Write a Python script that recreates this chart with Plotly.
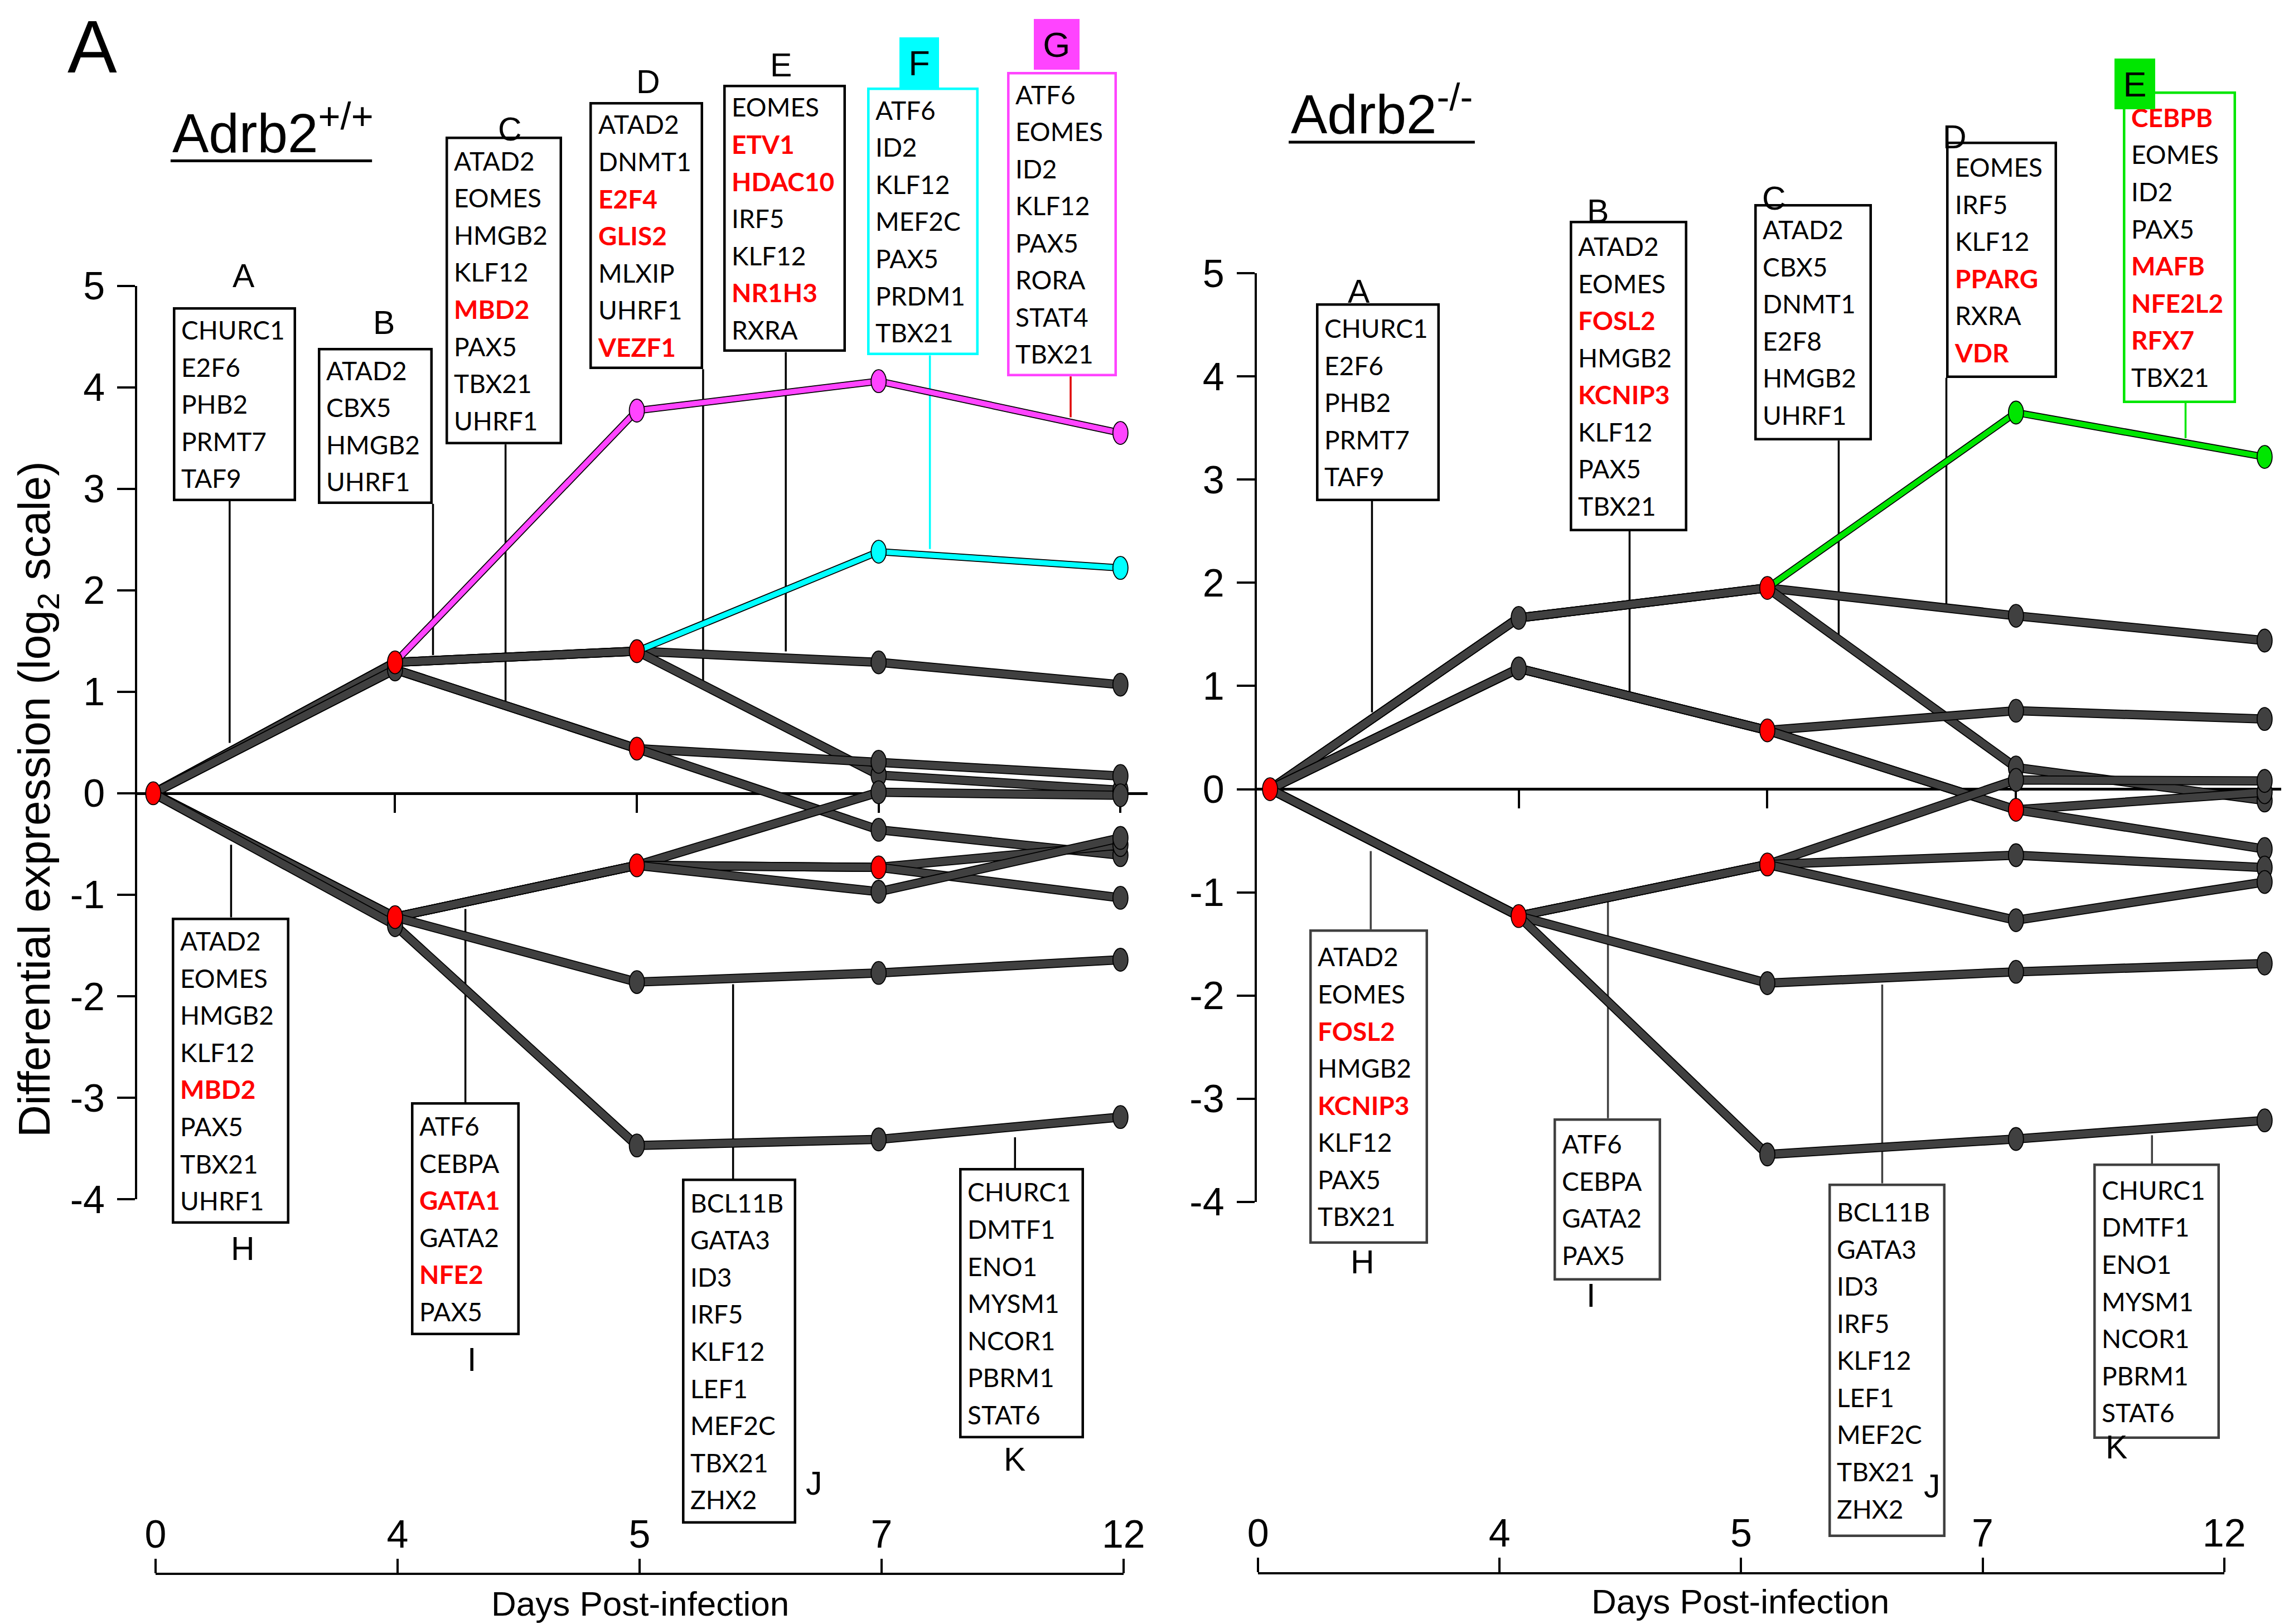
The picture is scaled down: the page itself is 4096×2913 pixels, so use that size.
import plotly.graph_objects as go

W, H = 4096, 2913
RW, RH = 1568.0, 1115.0          # reference preview size used for layout measurements
S = W / RW                       # reference px -> output px


def fx(v):
    return v / RW


def fy(v):
    return 1 - v / RH


ARIAL = 'Liberation Sans, Arial, sans-serif'
BOXF = 'Lato, Calibri, sans-serif'
GRAY = '#404040'
RED = '#FF0000'
MAGENTA = '#FF44FF'
CYAN = '#00FFFF'
GREEN = '#00E600'

# ---------------------------------------------------------------- data
days = ['0', '4', '5', '7', '12']
t = [0, 1, 2, 3, 4]
ytick_vals = [-4, -3, -2, -1, 0, 1, 2, 3, 4, 5]
ytick_text = ['-4', '-3', '-2', '-1', '0', '1', '2', '3', '4', '5']

# Adrb2+/+ trajectories (log2 differential expression at days 0, 4, 5, 7, 12)
wt_paths = [
    [0, 1.29, 3.77, 4.06, 3.55],     # G
    [0, 1.29, 1.40, 2.38, 2.22],     # F
    [0, 1.29, 1.40, 1.29, 1.07],
    [0, 1.29, 1.40, 0.18, 0.03],
    [0, 1.22, 0.44, 0.31, 0.17],
    [0, 1.22, 0.44, -0.36, -0.61],
    [0, -1.22, -0.71, 0.01, -0.02],
    [0, -1.22, -0.71, -0.73, -0.51],
    [0, -1.22, -0.71, -0.73, -1.03],
    [0, -1.22, -0.71, -0.97, -0.44],
    [0, -1.22, -1.86, -1.77, -1.64],
    [0, -1.30, -3.47, -3.41, -3.19],
]
wt_highlight = {0: (1, MAGENTA), 1: (2, CYAN)}

# Adrb2-/- trajectories
ko_paths = [
    [0, 1.66, 1.95, 3.65, 3.22],     # E
    [0, 1.66, 1.95, 1.68, 1.44],
    [0, 1.66, 1.95, 0.21, -0.11],
    [0, 1.17, 0.57, 0.76, 0.68],
    [0, 1.17, 0.57, -0.20, -0.03],
    [0, 1.17, 0.57, -0.20, -0.58],
    [0, -1.23, -0.73, 0.09, 0.08],
    [0, -1.23, -0.73, -0.64, -0.76],
    [0, -1.23, -0.73, -1.27, -0.90],
    [0, -1.23, -1.88, -1.77, -1.69],
    [0, -1.23, -3.54, -3.39, -3.21],
]
ko_highlight = {0: (2, GREEN)}

# gene lists (a trailing * marks the genes printed in bold red)
wt_A = ['CHURC1', 'E2F6', 'PHB2', 'PRMT7', 'TAF9']
wt_B = ['ATAD2', 'CBX5', 'HMGB2', 'UHRF1']
wt_C = ['ATAD2', 'EOMES', 'HMGB2', 'KLF12', 'MBD2*', 'PAX5', 'TBX21', 'UHRF1']
wt_D = ['ATAD2', 'DNMT1', 'E2F4*', 'GLIS2*', 'MLXIP', 'UHRF1', 'VEZF1*']
wt_E = ['EOMES', 'ETV1*', 'HDAC10*', 'IRF5', 'KLF12', 'NR1H3*', 'RXRA']
wt_F = ['ATF6', 'ID2', 'KLF12', 'MEF2C', 'PAX5', 'PRDM1', 'TBX21']
wt_G = ['ATF6', 'EOMES', 'ID2', 'KLF12', 'PAX5', 'RORA', 'STAT4', 'TBX21']
wt_H = ['ATAD2', 'EOMES', 'HMGB2', 'KLF12', 'MBD2*', 'PAX5', 'TBX21', 'UHRF1']
wt_I = ['ATF6', 'CEBPA', 'GATA1*', 'GATA2', 'NFE2*', 'PAX5']
wt_J = ['BCL11B', 'GATA3', 'ID3', 'IRF5', 'KLF12', 'LEF1', 'MEF2C', 'TBX21', 'ZHX2']
wt_K = ['CHURC1', 'DMTF1', 'ENO1', 'MYSM1', 'NCOR1', 'PBRM1', 'STAT6']

ko_A = ['CHURC1', 'E2F6', 'PHB2', 'PRMT7', 'TAF9']
ko_B = ['ATAD2', 'EOMES', 'FOSL2*', 'HMGB2', 'KCNIP3*', 'KLF12', 'PAX5', 'TBX21']
ko_C = ['ATAD2', 'CBX5', 'DNMT1', 'E2F8', 'HMGB2', 'UHRF1']
ko_D = ['EOMES', 'IRF5', 'KLF12', 'PPARG*', 'RXRA', 'VDR*']
ko_E = ['CEBPB*', 'EOMES', 'ID2', 'PAX5', 'MAFB*', 'NFE2L2*', 'RFX7*', 'TBX21']
ko_H = ['ATAD2', 'EOMES', 'FOSL2*', 'HMGB2', 'KCNIP3*', 'KLF12', 'PAX5', 'TBX21']
ko_I = ['ATF6', 'CEBPA', 'GATA2', 'PAX5']
ko_J = ['BCL11B', 'GATA3', 'ID3', 'IRF5', 'KLF12', 'LEF1', 'MEF2C', 'TBX21', 'ZHX2']
ko_K = ['CHURC1', 'DMTF1', 'ENO1', 'MYSM1', 'NCOR1', 'PBRM1', 'STAT6']

# ---------------------------------------------------------------- layout specs
# panel geometry (reference px): y-axis x, x of day 0, x per day step, end of zero line,
# y of +5, y of -4
PANELS = {
    'wt': dict(xa='x', ya='y', yax=94.2, x0=105.2, xu=166.0, xend=788.0, top=196.2, bot=823.4),
    'ko': dict(xa='x2', ya='y2', yax=862.7, x0=871.9, xu=170.7, xend=1566.0, top=187.6, bot=825.2),
}
YMIN, YMAX = -4, 5

# box: (letter, genes, x centre, y of the edge facing the path, width, height [ref px],
#       connector x, connector end y, connector colour, border colour, letter x, letter y)
wt_top = [
    ('A', wt_A, 0.337, 2.879, 84.5, 133.1, 0.316, 0.497, 'black', 'black', 0.375, 5.095),
    ('B', wt_B, 0.919, 2.852, 78.8, 107.3, 1.157, 1.362, 'black', 'black', 0.954, 4.637),
    ('C', wt_C, 1.450, 3.437, 80.1, 211.5, 1.457, 0.899, 'black', 'black', 1.476, 6.540),
    ('D', wt_D, 2.039, 4.178, 78.2, 183.5, 2.274, 1.110, 'black', 'black', 2.046, 7.006),
    ('E', wt_E, 2.612, 4.347, 84.3, 183.5, 2.616, 1.397, 'black', 'black', 2.596, 7.172),
    ('F', wt_F, 3.182, 4.314, 76.7, 183.7, 3.212, 2.407, CYAN, CYAN, None, None),
    ('G', wt_G, 3.759, 4.106, 75.3, 209.0, 3.794, 3.704, '#E00000', MAGENTA, None, None),
]
wt_bottom = [
    ('H', wt_H, 0.319, -1.223, 80.6, 210.3, 0.322, -0.507, 'black', 'black', 0.371, -4.486),
    ('I', wt_I, 1.291, -3.044, 74.5, 160.0, 1.291, -1.140, 'black', 'black', 1.317, -5.581),
    ('J', wt_J, 2.422, -3.796, 78.4, 237.0, 2.398, -1.882, 'black', 'black', 2.733, -6.802),
    ('K', wt_K, 3.591, -3.691, 85.9, 185.8, 3.564, -3.389, 'black', 'black', 3.563, -6.564),
]
ko_top = [
    ('A', ko_A, 0.433, 2.792, 85.1, 136.0, 0.410, 0.744, 'black', 'black', 0.357, 4.822),
    ('B', ko_B, 1.442, 2.499, 80.7, 213.2, 1.446, 0.922, 'black', 'black', 1.319, 5.601),
    ('C', ko_C, 2.184, 3.378, 80.7, 162.2, 2.287, 1.495, 'black', 'black', 2.026, 5.726),
    ('D', ko_D, 2.943, 3.986, 76.3, 162.3, 2.720, 1.791, 'black', 'black', 2.754, 6.317),
    ('E', ko_E, 3.658, 3.742, 77.8, 213.9, 3.682, 3.401, GREEN, GREEN, None, None),
]
ko_bottom = [
    ('H', ko_H, 0.397, -1.358, 81.7, 215.8, 0.405, -0.600, GRAY, GRAY, 0.371, -4.586),
    ('I', ko_I, 1.357, -3.189, 73.9, 111.3, 1.359, -1.094, GRAY, GRAY, 1.291, -4.907),
    ('J', ko_J, 2.482, -3.820, 80.2, 242.6, 2.462, -1.893, GRAY, GRAY, 2.663, -6.756),
    ('K', ko_K, 3.566, -3.628, 87.0, 189.2, 3.547, -3.354, GRAY, GRAY, 3.405, -6.378),
]
# coloured letter tabs: (letter, x centre, y edge, anchor, width, height [ref px], colour)
wt_tabs = [('F', 3.167, 6.950, 'bottom', 27.2, 34.9, CYAN),
           ('G', 3.736, 7.129, 'bottom', 31.3, 34.9, MAGENTA)]
ko_tabs = [('E', 3.479, 7.079, 'top', 28.0, 35.0, GREEN)]

fig = go.Figure()
annotations = []
shapes = []


def ydom(p):
    return [fy(p['bot']), fy(p['top'])]


def paper_y(v, p):
    # position outside the axis range (labels above / below the plotting range)
    d0, d1 = ydom(p)
    return d0 + (v - YMIN) / (YMAX - YMIN) * (d1 - d0)


NODE_W, NODE_H = 27, 41     # output px (the nodes are drawn as upright ellipses)


def add_paths(paths, hl, p):
    xa, ya = p['xa'], p['ya']
    common = dict(xaxis=xa, yaxis=ya, hoverinfo='skip', showlegend=False)
    for k, path in enumerate(paths):
        start = hl[k][0] if k in hl else len(path) - 1
        xs, ys = t[:start + 1], path[:start + 1]
        fig.add_trace(go.Scatter(x=xs, y=ys, mode='lines',
                                 line=dict(color='black', width=16.5), **common))
        fig.add_trace(go.Scatter(x=xs, y=ys, mode='lines',
                                 line=dict(color=GRAY, width=13), **common))
    for k, (start, col) in hl.items():
        path = paths[k]
        xs, ys = t[start:], path[start:]
        fig.add_trace(go.Scatter(x=xs, y=ys, mode='lines',
                                 line=dict(color='black', width=13), **common))
        fig.add_trace(go.Scatter(x=xs, y=ys, mode='lines',
                                 line=dict(color=col, width=9.5), **common))
    # nodes: red where a trajectory splits
    children = {}
    for path in paths:
        for i in range(len(path)):
            key = (t[i], path[i])
            children.setdefault(key, set())
            if i < len(path) - 1:
                children[key].add(path[i + 1])
    red = [k for k, v in children.items() if len(v) > 1]
    colored = {}
    for k, (start, col) in hl.items():
        for i in range(start, len(paths[k])):
            key = (t[i], paths[k][i])
            if key not in red:
                colored.setdefault(col, []).append(key)
    used = set(red)
    for v in colored.values():
        used.update(v)
    gray = [k for k in children if k not in used]
    groups = [(gray, GRAY)] + [(v, c) for c, v in colored.items()] + [(red, RED)]
    for nodes, col in groups:
        for (nx, ny) in nodes:
            shapes.append(dict(type='circle', xref=xa, yref=ya,
                               xsizemode='pixel', ysizemode='pixel',
                               xanchor=nx, yanchor=ny,
                               x0=-NODE_W / 2, x1=NODE_W / 2,
                               y0=-NODE_H / 2, y1=NODE_H / 2,
                               fillcolor=col, line=dict(color='black', width=1.8),
                               layer='above'))


BW, BP = 4.5, 10.5


def gene_text(genes):
    out = []
    for g in genes:
        if g.endswith('*'):
            out.append('<span style="color:%s;font-size:46px"><b>%s</b></span>' % (RED, g[:-1]))
        else:
            out.append('<span style="font-size:46px">%s</span>' % g)
    return '<br>'.join(out)


def add_boxes(specs, above, p):
    xr, yr = p['xa'], p['ya']
    for (let, genes, xc, ye, w, h, cx, cy, ccol, bcol, lx, ly) in specs:
        annotations.append(dict(
            x=xc, y=ye, xref=xr, yref=yr, xanchor='center',
            yanchor='bottom' if above else 'top',
            text=gene_text(genes), showarrow=False, align='left', valign='middle',
            width=w * S - 2 * (BW + BP), height=h * S - 2 * (BW + BP),
            bordercolor=bcol, borderwidth=BW, borderpad=BP, bgcolor='white',
            font=dict(family=BOXF, size=51.2, color='black')))
        shapes.append(dict(type='line', xref=xr, yref=yr, x0=cx, x1=cx, y0=ye, y1=cy,
                           line=dict(color=ccol, width=3.5), layer='below'))
        if lx is not None:
            annotations.append(dict(x=lx, y=paper_y(ly, p), xref=xr, yref='paper', text=let,
                                    showarrow=False, xanchor='center', yanchor='middle',
                                    font=dict(family=ARIAL, size=59, color='black')))


def add_tabs(tabs, p):
    for (let, xc, ye, anc, w, h, col) in tabs:
        annotations.append(dict(x=xc, y=paper_y(ye, p), xref=p['xa'], yref='paper',
                                xanchor='center', yanchor=anc,
                                text=let, showarrow=False, width=w * S, height=h * S,
                                align='center', valign='middle', bgcolor=col,
                                borderwidth=0, borderpad=0,
                                font=dict(family=ARIAL, size=63, color='black')))


WT, KO = PANELS['wt'], PANELS['ko']
add_paths(wt_paths, wt_highlight, WT)
add_paths(ko_paths, ko_highlight, KO)
add_boxes(wt_top, True, WT)
add_boxes(wt_bottom, False, WT)
add_boxes(ko_top, True, KO)
add_boxes(ko_bottom, False, KO)
add_tabs(wt_tabs, WT)
add_tabs(ko_tabs, KO)

# invisible traces that carry the two "Days Post-infection" axes
fig.add_trace(go.Scatter(x=[0, 4], y=[None, None], xaxis='x3', yaxis='y', mode='markers',
                         hoverinfo='skip', showlegend=False))
fig.add_trace(go.Scatter(x=[0, 4], y=[None, None], xaxis='x4', yaxis='y2', mode='markers',
                         hoverinfo='skip', showlegend=False))

# ---------------------------------------------------------------- text
annotations += [
    dict(x=fx(63.5), y=fy(32), xref='paper', yref='paper', text='A', showarrow=False,
         xanchor='center', yanchor='middle', font=dict(family=ARIAL, size=133, color='black')),
    dict(x=fx(117.6), y=fy(113.4), xref='paper', yref='paper', text='Adrb2<sup>+/+</sup>',
         showarrow=False, xanchor='left', yanchor='bottom',
         font=dict(family=ARIAL, size=98, color='black')),
    dict(x=fx(885.4), y=fy(100.4), xref='paper', yref='paper', text='Adrb2<sup>-/-</sup>',
         showarrow=False, xanchor='left', yanchor='bottom',
         font=dict(family=ARIAL, size=98, color='black')),
    dict(x=fx(25.8), y=fy(548.7), xref='paper', yref='paper',
         text='Differential expression (log<sub>2</sub> scale)', textangle=-90,
         showarrow=False, xanchor='center', yanchor='middle',
         font=dict(family=ARIAL, size=80, color='black')),
    dict(x=fx(439.6), y=fy(1101), xref='paper', yref='paper', text='Days Post-infection',
         showarrow=False, xanchor='center', yanchor='middle',
         font=dict(family=ARIAL, size=62, color='black')),
    dict(x=fx(1194.7), y=fy(1099.6), xref='paper', yref='paper', text='Days Post-infection',
         showarrow=False, xanchor='center', yanchor='middle',
         font=dict(family=ARIAL, size=62, color='black')),
]
shapes += [
    dict(type='line', xref='paper', yref='paper', x0=fx(117.1), x1=fx(255.4),
         y0=fy(110.4), y1=fy(110.4), line=dict(color='black', width=5)),
    dict(type='line', xref='paper', yref='paper', x0=fx(884.7), x1=fx(1012.5),
         y0=fy(97.6), y1=fy(97.6), line=dict(color='black', width=5)),
]

# ---------------------------------------------------------------- axes
tickfont = dict(family=ARIAL, size=70, color='black')
pt_axis = dict(anchor='free', showline=True, linecolor='black', linewidth=4.5,
               ticks='outside', tickvals=[1, 2, 3, 4], ticklen=32, tickwidth=4,
               tickcolor='black', showticklabels=False, showgrid=False, zeroline=False,
               layer='below traces', automargin=False)
y_axis = dict(range=[YMIN, YMAX], showline=True, linecolor='black', linewidth=4,
              ticks='outside', ticklen=32, tickwidth=4, tickcolor='black',
              tickvals=ytick_vals, ticktext=ytick_text, tickfont=tickfont,
              ticklabelstandoff=8, showgrid=False, zeroline=False, automargin=False)
day_axis = dict(anchor='free', side='top', range=[-0.0005, 4.0005], tickvals=t, ticktext=days,
                showline=True, linecolor='black', linewidth=3.5, ticks='outside', ticklen=26,
                tickwidth=4, tickcolor='black', tickfont=tickfont, ticklabelstandoff=-8,
                showgrid=False, zeroline=False, automargin=False)


def xdom(p):
    return [fx(p['yax']), fx(p['xend'])]


def xrange_(p):
    return [(p['yax'] - p['x0']) / p['xu'], (p['xend'] - p['x0']) / p['xu']]


fig.update_layout(
    width=W, height=H, autosize=False,
    margin=dict(l=0, r=0, t=0, b=0, pad=0, autoexpand=False),
    paper_bgcolor='white', plot_bgcolor='rgba(0,0,0,0)', showlegend=False,
    xaxis=dict(domain=xdom(WT), range=xrange_(WT), position=fy(544.65), **pt_axis),
    yaxis=dict(domain=ydom(WT), anchor='x', **y_axis),
    xaxis2=dict(domain=xdom(KO), range=xrange_(KO), position=fy(541.8), **pt_axis),
    yaxis2=dict(domain=ydom(KO), anchor='x2', **y_axis),
    xaxis3=dict(domain=[fx(106.7), fx(771.4)], position=fy(1080.7), **day_axis),
    xaxis4=dict(domain=[fx(863.6), fx(1527.0)], position=fy(1080.2), **day_axis),
    annotations=annotations, shapes=shapes,
)

fig.write_html('out.html', config={'displayModeBar': False},
               post_script="document.body.style.margin='0';")
